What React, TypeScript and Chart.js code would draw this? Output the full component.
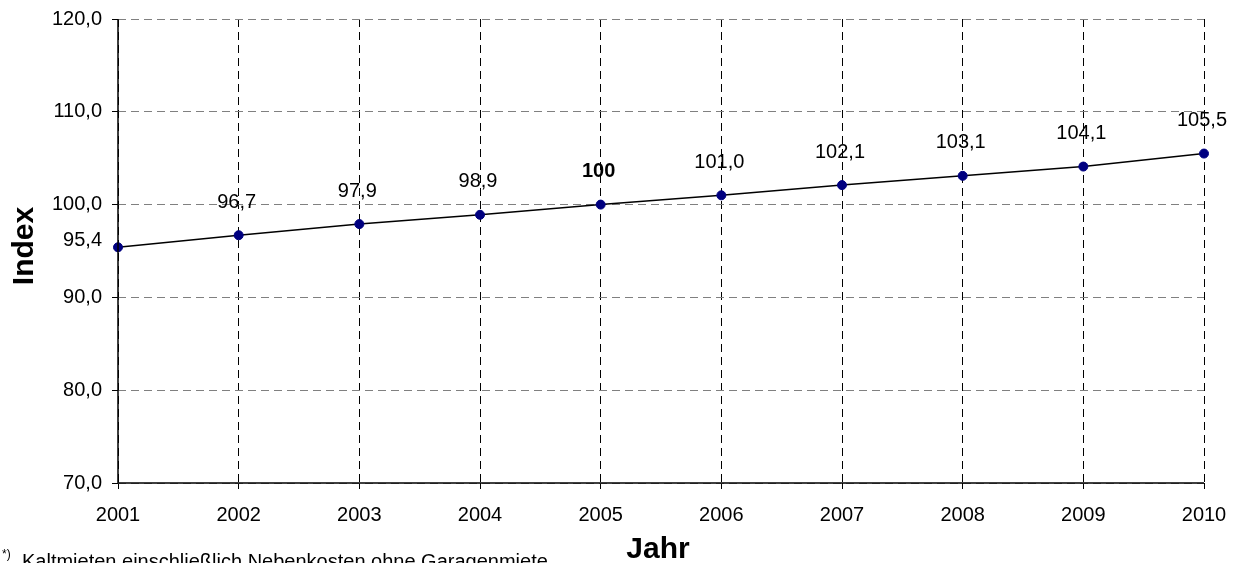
import React, { useEffect, useRef } from "react";
import { Chart, registerables } from "chart.js";

Chart.register(...registerables);

const years: string[] = ["2001", "2002", "2003", "2004", "2005", "2006", "2007", "2008", "2009", "2010"];
const indexValues: number[] = [95.4, 96.7, 97.9, 98.9, 100, 101.0, 102.1, 103.1, 104.1, 105.5];
const baseYearIndex = 4;
const yMin = 70;
const yMax = 120;
const yStep = 10;
const yTitle = "Index";
const xTitle = "Jahr";
const footnoteMark = "*)";
const footnoteText = "Kaltmieten einschließlich Nebenkosten ohne Garagenmiete";

const FONT = "'Liberation Sans', Arial, Helvetica, sans-serif";

const fmt = (v: number) => v.toFixed(1).replace(".", ",");

const labelsPlugin = {
  id: "customLabels",
  afterDatasetsDraw(chart: any) {
    const ctx = chart.ctx;
    const area = chart.chartArea;
    // solid axis lines
    ctx.save();
    ctx.setLineDash([]);
    ctx.strokeStyle = "#000";
    ctx.lineWidth = 1.5;
    ctx.beginPath();
    ctx.moveTo(area.left, area.top);
    ctx.lineTo(area.left, area.bottom);
    ctx.lineTo(area.right, area.bottom);
    ctx.stroke();
    ctx.restore();

    const meta = chart.getDatasetMeta(0);
    ctx.save();
    ctx.fillStyle = "#000";
    meta.data.forEach((pt: any, i: number) => {
      const v = indexValues[i];
      const bold = i === baseYearIndex;
      ctx.font = `${bold ? "bold " : ""}20px ${FONT}`;
      const text = bold ? "100" : fmt(v);
      ctx.textBaseline = "middle";
      if (i === 0) {
        ctx.textAlign = "right";
        ctx.fillText(text, pt.x - 16, pt.y - 7);
      } else {
        ctx.textAlign = "center";
        ctx.fillText(text, pt.x - 2, pt.y - 33);
      }
    });
    ctx.restore();
  },
  afterDraw(chart: any) {
    const ctx = chart.ctx;
    ctx.save();
    ctx.fillStyle = "#000";
    // y title
    ctx.font = `bold 30px ${FONT}`;
    ctx.textAlign = "center";
    ctx.textBaseline = "alphabetic";
    ctx.translate(33, 246);
    ctx.rotate(-Math.PI / 2);
    ctx.fillText(yTitle, 0, 0);
    ctx.setTransform(1, 0, 0, 1, 0, 0);
    // x title
    ctx.font = `bold 30px ${FONT}`;
    ctx.textAlign = "center";
    ctx.fillText(xTitle, 658, 558);
    // footnote
    ctx.textAlign = "left";
    ctx.font = `12px ${FONT}`;
    ctx.fillText(footnoteMark, 2, 558);
    ctx.font = `20px ${FONT}`;
    ctx.fillText(footnoteText, 22, 568);
    ctx.restore();
  },
};

export default function App() {
  const ref = useRef<HTMLCanvasElement | null>(null);
  useEffect(() => {
    if (!ref.current) return;
    const chart = new Chart(ref.current, {
      type: "line",
      data: {
        labels: years,
        datasets: [
          {
            data: indexValues,
            borderColor: "#000",
            borderWidth: 1.5,
            pointBackgroundColor: "#000080",
            pointBorderColor: "#000080",
            pointRadius: 4.5,
            pointBorderWidth: 1,
            tension: 0,
            clip: false as any,
          },
        ],
      },
      options: {
        responsive: false,
        animation: false,
        maintainAspectRatio: false,
        layout: { padding: { left: 0, right: 32, top: 19, bottom: 0 } },
        plugins: { legend: { display: false }, tooltip: { enabled: false } },
        scales: {
          x: {
            type: "category",
            offset: false,
            grid: {
              color: "#000",
              lineWidth: 1,
              tickLength: 6,
              tickColor: "#000",
              tickBorderDash: [],
            } as any,
            border: { display: false, dash: [8, 5] },
            ticks: {
              color: "#000",
              font: { family: FONT, size: 20 },
              padding: 14,
              maxRotation: 0,
              autoSkip: false,
            },
            afterFit: (s: any) => {
              s.height = 80;
              s.paddingLeft = 0;
              s.paddingRight = 0;
            },
          },
          y: {
            min: yMin,
            max: yMax,
            grid: {
              color: "#808080",
              lineWidth: 1,
              tickLength: 6,
              tickColor: "#000",
              tickBorderDash: [],
            } as any,
            border: { display: false, dash: [8, 5] },
            ticks: {
              stepSize: yStep,
              color: "#000",
              font: { family: FONT, size: 20 },
              padding: 10,
              callback: (v: any) => fmt(Number(v)),
            },
            afterFit: (s: any) => {
              s.width = 118;
              s.paddingTop = 0;
              s.paddingBottom = 0;
            },
          },
        },
      },
      plugins: [labelsPlugin],
    });
    return () => chart.destroy();
  }, []);
  return (
    <div style={{ position: "absolute", left: 0, top: 0, width: 1236, height: 563, background: "#fff" }}>
      <canvas ref={ref} width={1236} height={563} />
    </div>
  );
}
